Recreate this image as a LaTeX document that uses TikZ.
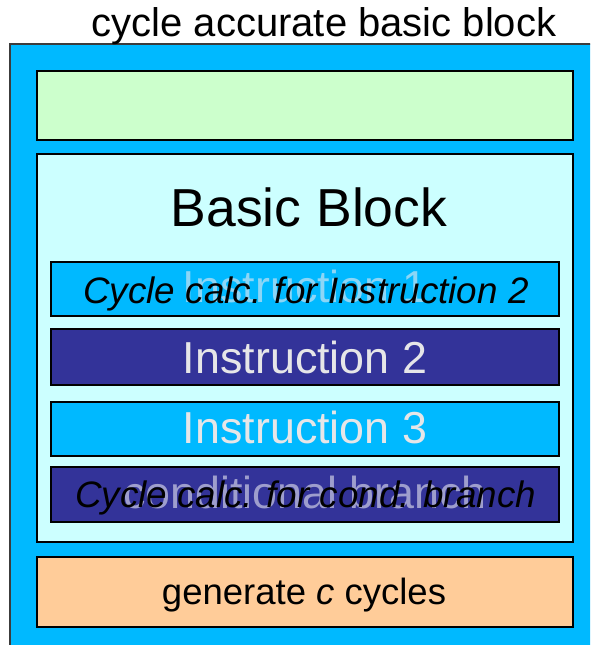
\documentclass[tikz,border=0pt]{standalone}
\usepackage{fontspec}
\setmainfont{Liberation Sans}

\definecolor{frameblue}{RGB}{0,185,255}
\definecolor{headgreen}{RGB}{204,255,204}
\definecolor{bodycyan}{RGB}{204,255,255}
\definecolor{instrblue}{RGB}{0,185,255}
\definecolor{instrnavy}{RGB}{51,51,153}
\definecolor{tailorange}{RGB}{255,204,153}
\definecolor{instrtext}{RGB}{230,230,232}
\definecolor{fadeonblue}{RGB}{140,214,246}
\definecolor{fadeonnavy}{RGB}{158,158,205}
\definecolor{framegray}{RGB}{60,60,60}

\newcommand{\fsz}[1]{\fontsize{#1}{#1}\selectfont}

\tikzset{
  panel/.style={draw=black, line width=2pt, inner sep=0pt, outer sep=0pt,
                anchor=north west},
  label/.style={anchor=base, inner sep=0pt, outer sep=0pt},
  instrlabel/.style={label, text=instrtext, font=\fsz{44.8}},
  calclabel/.style={label, text=black, font=\fsz{36.8}\itshape},
}

\begin{document}
\begin{tikzpicture}[x=1pt, y=-1pt]
  \useasboundingbox (0,0) rectangle (590,645);
  \clip (0,0) rectangle (590,645);

  % enclosing frame
  \node[panel, draw=framegray, fill=frameblue, minimum width=600pt,
        minimum height=620pt] (frame) at (10,44) {};
  \node[label, font=\fsz{40}] (title) at (324,36) {cycle accurate basic block};

  % header slot
  \node[panel, fill=headgreen, minimum width=536pt, minimum height=69pt]
        (head) at (37,71) {};

  % basic block body
  \node[panel, fill=bodycyan, minimum width=536pt, minimum height=388pt]
        (body) at (37,154) {};
  \node[label, font=\fsz{53.5}] (bbtitle) at (309,226) {Basic Block};

  % instruction rows
  \node[panel, fill=instrblue, minimum width=508pt, minimum height=54pt]
        (ins1) at (51,262) {};
  \node[panel, fill=instrnavy, minimum width=508pt, minimum height=56pt]
        (ins2) at (51,329) {};
  \node[panel, fill=instrblue, minimum width=508pt, minimum height=54pt]
        (ins3) at (51,402) {};
  \node[panel, fill=instrnavy, minimum width=508pt, minimum height=55pt]
        (ins4) at (51,467) {};

  \node[instrlabel, text=fadeonblue] (ins1txt) at (305,302) {Instruction 1};
  \node[calclabel] (calc2) at (306,303) {Cycle calc. for Instruction 2};
  \node[instrlabel] (ins2txt) at (305,373) {Instruction 2};
  \node[instrlabel] (ins3txt) at (305,443) {Instruction 3};
  \node[instrlabel, text=fadeonnavy] (ins4txt) at (305,508) {conditional branch};
  \node[calclabel] (calcbr) at (305.5,507) {Cycle calc. for cond. branch};

  % cycle generation slot
  \node[panel, fill=tailorange, minimum width=536pt, minimum height=70pt]
        (tail) at (37,557) {};
  \node[label, font=\fsz{36.5}] (gen) at (304,604) {generate \textit{c} cycles};
\end{tikzpicture}
\end{document}
